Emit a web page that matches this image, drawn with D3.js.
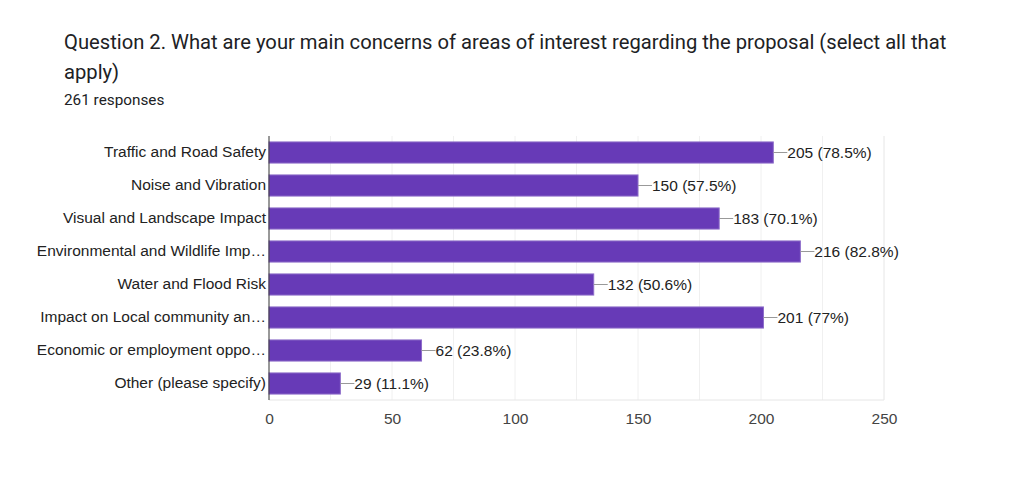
<!DOCTYPE html>
<html>
<head>
<meta charset="utf-8">
<script src="https://cdn.jsdelivr.net/npm/d3@7"></script>
<style>
  body { margin: 0; background: #fff; }
  text { font-family: "Liberation Sans", Arial, sans-serif; }
  .title { font-family: Roboto, Arial, sans-serif; }
</style>
</head>
<body>
<div id="chart"></div>
<script>
const titleLines = ['Question 2. What are your main concerns of areas of interest regarding the proposal (select all that', 'apply)'];
const subtitle = '261 responses';
const categories = [
  'Traffic and Road Safety',
  'Noise and Vibration',
  'Visual and Landscape Impact',
  'Environmental and Wildlife Imp\u2026',
  'Water and Flood Risk',
  'Impact on Local community an\u2026',
  'Economic or employment oppo\u2026',
  'Other (please specify)'
];
const counts = [205, 150, 183, 216, 132, 201, 62, 29];
const percents = ['78.5%', '57.5%', '70.1%', '82.8%', '50.6%', '77%', '23.8%', '11.1%'];
const xTicks = [0, 50, 100, 150, 200, 250];

const width = 1024, height = 482;
const margin = { top: 136, right: 140, bottom: 82, left: 269 };
const innerW = width - margin.left - margin.right,
  innerH = height - margin.top - margin.bottom;
const fontSize = 15.5;

const svg = d3.select('#chart').append('svg')
  .attr('width', width)
  .attr('height', height);

// title
svg.append('g').selectAll('text')
  .data(titleLines)
  .enter().append('text')
  .attr('class', 'title')
  .attr('x', 64)
  .attr('y', (d, i) => 49 + i * 30)
  .attr('font-size', 20.2)
  .attr('fill', '#202124')
  .text(d => d);

svg.append('text')
  .attr('class', 'title')
  .attr('x', 64).attr('y', 105)
  .attr('font-size', 15.3)
  .attr('fill', '#202124')
  .text(subtitle);

const g = svg.append('g')
  .attr('transform', `translate(${margin.left},${margin.top})`);

const x = d3.scaleLinear().domain([0, 250]).range([0, innerW]);
const y = d3.scaleBand().domain(categories).range([0, innerH])
  .paddingInner(0.36).paddingOuter(0.18);

// grid (every 25)
g.append('g').selectAll('line')
  .data(d3.range(25, 251, 25))
  .enter().append('line')
  .attr('x1', d => x(d)).attr('x2', d => x(d))
  .attr('y1', 0).attr('y2', innerH)
  .attr('stroke', d => d === 250 ? '#e6e6e6' : '#f0f0f0')
  .attr('stroke-width', 1);

g.append('line')
  .attr('x1', 0).attr('x2', innerW)
  .attr('y1', innerH).attr('y2', innerH)
  .attr('stroke', '#e6e6e6');

// bars
g.append('g').selectAll('rect')
  .data(counts)
  .enter().append('rect')
  .attr('x', 0)
  .attr('y', (d, i) => y(categories[i]))
  .attr('width', d => x(d))
  .attr('height', y.bandwidth())
  .attr('fill', '#673ab7')
  .attr('stroke', '#8d6cc9')
  .attr('stroke-width', 1);

// leader lines + value labels
const lbl = g.append('g').selectAll('g')
  .data(counts)
  .enter().append('g')
  .attr('transform', (d, i) => `translate(${x(d)},${y(categories[i]) + y.bandwidth() / 2})`);

lbl.append('line')
  .attr('x1', 0).attr('x2', 14)
  .attr('stroke', '#999').attr('stroke-width', 1);

lbl.append('text')
  .attr('x', 14)
  .attr('dy', '0.36em')
  .attr('font-size', fontSize)
  .attr('fill', '#222')
  .text((d, i) => `${d} (${percents[i]})`);

// y axis
const yAxis = d3.axisLeft(y).tickSize(0).tickPadding(3);
g.append('g')
  .call(yAxis)
  .call(s => s.select('.domain').attr('stroke', '#333').attr('d', `M0,0V${innerH}`))
  .call(s => s.selectAll('text').attr('font-size', fontSize).attr('fill', '#222').style('font-family', '"Liberation Sans", Arial, sans-serif'));

// x axis
const xAxis = d3.axisBottom(x).tickValues(xTicks).tickSize(0).tickPadding(13);
g.append('g')
  .attr('transform', `translate(0,${innerH})`)
  .call(xAxis)
  .call(s => s.select('.domain').remove())
  .call(s => s.selectAll('text').attr('font-size', fontSize).attr('fill', '#444').style('font-family', '"Liberation Sans", Arial, sans-serif'));
</script>
</body>
</html>
